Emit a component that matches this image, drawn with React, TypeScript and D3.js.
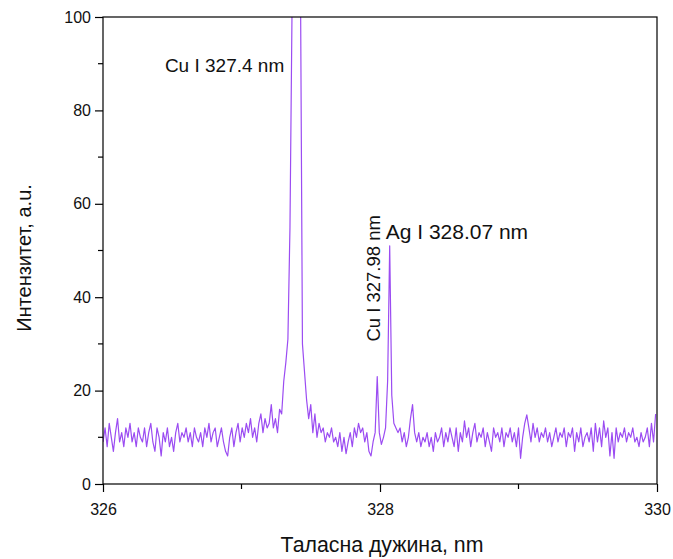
import React, { useEffect, useRef } from "react";
import * as d3 from "d3";

// Sampling grid of the spectrum
const START_NM = 326;
const STEP_NM = 0.015;

// Intensity (a.u.), one value per sample
const intensity: number[] = [
  // 326.000 – 326.285
  9, 12, 8, 13, 10, 7, 11, 14, 9, 11,
  8, 12, 10, 13, 9, 11, 8, 12, 10, 9,
  // 326.300 – 326.585
  12, 8, 11, 13, 9, 7, 12, 10, 6, 11,
  9, 12, 8, 10, 7, 11, 13, 9, 11, 10,
  // 326.600 – 326.885
  12, 9, 11, 8, 12, 10, 9, 11, 8, 12,
  10, 13, 9, 11, 12, 8, 10, 12, 9, 7,
  // 326.900 – 327.185
  6, 10, 12, 8, 11, 13, 9, 12, 10, 13,
  11, 14, 10, 12, 9, 13, 15, 11, 14, 12,
  // 327.200 – 327.305
  13, 17, 12, 14, 11, 16, 15, 22,
  // Cu I 327.4 nm peak region
  26, 31, 55, 102, 150, 170, 150, 112, 30, 24, 18,
  // 327.485 – 327.965
  14, 17, 11, 15, 10, 13, 11, 12, 9, 11,
  10, 12, 9, 10, 8, 11, 7, 10, 6.5, 9,
  11, 8, 12, 10, 13, 11, 12, 9, 11, 7,
  6, 9, 11,
  // Cu I 327.98 nm and Ag I 328.07 nm
  23, 11, 8.5, 10, 12, 22, 51, 19, 13,
  12, 11, 12, 9, 11, 8, 10, 14, 17, 11,
  // 328.265 – 329.990
  9, 11, 8, 10, 9, 11, 8, 10, 7, 11,
  9, 10, 12, 8, 11, 9, 12, 10, 8, 12,
  7, 11, 9, 13.5, 10, 12, 8, 11, 13, 9,
  11, 10, 12, 8, 11, 9, 7, 12, 10, 11,
  9, 12, 8, 11, 10, 12, 9, 11, 8, 12,
  5.5, 10, 13, 14.8, 12, 9, 13, 10, 12, 9,
  11, 10, 12, 9, 11, 8, 10, 12, 9, 11,
  10, 12, 8, 11, 10, 12, 7, 11, 9, 12,
  8, 10, 11, 9, 12, 7, 13, 9, 12, 8,
  13.5, 10, 12, 6, 11, 5.5, 12, 9, 11, 10,
  12, 9, 11, 10, 12, 9, 10, 8, 11, 9,
  10, 12, 8, 13, 9, 15,
];

const xMajorTicks = [326, 328, 330];
const xMinorTicks = [327, 329];
const yMajorTicks = [0, 20, 40, 60, 80, 100];
const yMinorTicks = [10, 30, 50, 70, 90];

const annotations = [
  { text: "Cu I 327.4 nm", wl: 327.4, y: 88.3, size: 19, rotate: false, dx: -132 },
  { text: "Ag I 328.07 nm", wl: 328.07, y: 52.5, size: 21, rotate: false, dx: -4 },
  { text: "Cu I 327.98 nm", wl: 327.98, y: 30.5, size: 18.5, rotate: true, dx: 3 },
];

const W = 673;
const H = 559;
const M = { left: 103, right: 16, top: 17, bottom: 75 };
const FONT = "Arial, 'Liberation Sans', sans-serif";
const LINE_COLOR = "#9b4cf2";

export default function App() {
  const ref = useRef<SVGSVGElement | null>(null);

  useEffect(() => {
    const svg = d3.select(ref.current);
    svg.selectAll("*").remove();

    const x = d3.scaleLinear().domain([326, 330]).range([M.left, W - M.right]);
    const y = d3.scaleLinear().domain([0, 100]).range([H - M.bottom, M.top]);

    const data = intensity.map((v, i) => ({ wl: START_NM + i * STEP_NM, v }));

    svg
      .append("defs")
      .append("clipPath")
      .attr("id", "plotclip")
      .append("rect")
      .attr("x", M.left)
      .attr("y", M.top)
      .attr("width", W - M.left - M.right)
      .attr("height", H - M.top - M.bottom);

    const line = d3
      .line<{ wl: number; v: number }>()
      .x((d) => x(d.wl))
      .y((d) => y(d.v));

    svg
      .append("path")
      .datum(data)
      .attr("clip-path", "url(#plotclip)")
      .attr("fill", "none")
      .attr("stroke", LINE_COLOR)
      .attr("stroke-width", 1.2)
      .attr("stroke-linejoin", "round")
      .attr("d", line);

    // frame
    svg
      .append("rect")
      .attr("x", M.left)
      .attr("y", M.top)
      .attr("width", W - M.left - M.right)
      .attr("height", H - M.top - M.bottom)
      .attr("fill", "none")
      .attr("stroke", "#000")
      .attr("stroke-width", 1.2);

    // x axis
    const xAxis = svg.append("g").attr("transform", `translate(0,${H - M.bottom})`);
    xAxis
      .call(
        d3
          .axisBottom(x)
          .tickValues(xMajorTicks)
          .tickFormat(d3.format("d"))
          .tickSize(8)
          .tickPadding(12)
          .tickSizeOuter(0)
      )
      .call((g) => g.select(".domain").remove());
    xAxis
      .selectAll(".tick-minor")
      .data(xMinorTicks)
      .enter()
      .append("line")
      .attr("x1", (d) => x(d))
      .attr("x2", (d) => x(d))
      .attr("y1", 0)
      .attr("y2", 5)
      .attr("stroke", "#000")
      .attr("stroke-width", 1.2);

    // y axis
    const yAxis = svg.append("g").attr("transform", `translate(${M.left},0)`);
    yAxis
      .call(
        d3
          .axisLeft(y)
          .tickValues(yMajorTicks)
          .tickFormat(d3.format("d"))
          .tickSize(8)
          .tickPadding(4)
          .tickSizeOuter(0)
      )
      .call((g) => g.select(".domain").remove());
    yAxis
      .selectAll(".tick-minor")
      .data(yMinorTicks)
      .enter()
      .append("line")
      .attr("x1", 0)
      .attr("x2", -5)
      .attr("y1", (d) => y(d))
      .attr("y2", (d) => y(d))
      .attr("stroke", "#000")
      .attr("stroke-width", 1.2);

    svg
      .selectAll(".tick line")
      .attr("stroke", "#000")
      .attr("stroke-width", 1.2);
    svg
      .selectAll(".tick text")
      .attr("font-family", FONT)
      .attr("font-size", 16)
      .attr("fill", "#111");

    // axis titles
    svg
      .append("text")
      .attr("x", 382)
      .attr("y", 552)
      .attr("text-anchor", "middle")
      .attr("font-family", FONT)
      .attr("font-size", 21.3)
      .attr("fill", "#111")
      .text("Таласна дужина, nm");

    svg
      .append("text")
      .attr("transform", `translate(31,258) rotate(-90)`)
      .attr("text-anchor", "middle")
      .attr("font-family", FONT)
      .attr("font-size", 20)
      .attr("fill", "#111")
      .text("Интензитет, а.u.");

    // peak annotations
    annotations.forEach((a) => {
      const t = svg
        .append("text")
        .attr("font-family", FONT)
        .attr("font-size", a.size)
        .attr("fill", "#111")
        .text(a.text);
      if (a.rotate) {
        t.attr("transform", `translate(${x(a.wl) + a.dx},${y(a.y)}) rotate(-90)`);
      } else {
        t.attr("x", x(a.wl) + a.dx).attr("y", y(a.y));
      }
    });
  }, []);

  return (
    <svg
      ref={ref}
      width={W}
      height={H}
      style={{ position: "absolute", left: 0, top: 0, background: "#fff" }}
    />
  );
}
